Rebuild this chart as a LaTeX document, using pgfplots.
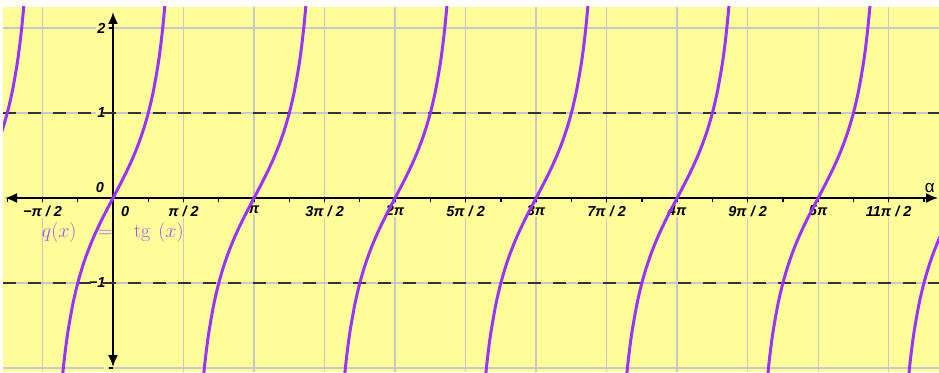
\RequirePackage{fix-cm}
\documentclass[border=0pt]{standalone}
\usepackage{pgfplots}
\pgfplotsset{compat=1.18}
\usepackage{pgfplotstable}
\usetikzlibrary{arrows.meta}
\usepackage{fontspec}
\setsansfont{Liberation Sans}
\definecolor{bgyellow}{RGB}{255,253,153}
\definecolor{curve}{RGB}{153,51,255}
\definecolor{lbl}{RGB}{160,85,250}
\definecolor{gridgray}{RGB}{200,200,200}

% one branch of tg around 0, repeated every pi
\pgfplotstableread{
t y
-1.20 -2.57215
-1.15 -2.23716
-1.10 -1.96476
-1.05 -1.74332
-1.00 -1.55741
-0.90 -1.26016
-0.80 -1.02964
-0.70 -0.84229
-0.60 -0.68414
-0.50 -0.54630
-0.40 -0.42279
-0.30 -0.30934
-0.20 -0.20271
-0.10 -0.10033
0.00 0.00000
0.10 0.10033
0.20 0.20271
0.30 0.30934
0.40 0.42279
0.50 0.54630
0.60 0.68414
0.70 0.84229
0.80 1.02964
0.90 1.26016
1.00 1.55741
1.05 1.74332
1.10 1.96476
1.15 2.23716
1.20 2.57215
}\branch

\begin{document}
\begin{tikzpicture}
\begin{axis}[name=ax, scale only axis, width=936pt, height=365pt,
  xmin=-2.451, xmax=18.40, ymin=-2.047, ymax=2.247,
  axis lines=middle, axis background/.style={fill=bgyellow},
  x axis line style={{Latex[length=12pt,width=10pt]}-{Latex[length=12pt,width=10pt]}, line width=1.8pt, shorten <=2pt, shorten >=1pt},
  y axis line style={{Latex[length=12pt,width=10pt]}-{Latex[length=12pt,width=10pt]}, line width=1.8pt, shorten <=5pt, shorten >=5pt},
  xtick={-1.570796,1.570796,3.141593,4.712389,6.283185,7.853982,9.424778,10.995574,12.566371,14.137167,15.707963,17.278760},
  xticklabels={−π / 2, π / 2, π, 3π / 2, 2π, 5π / 2, 3π, 7π / 2, 4π, 9π / 2, 5π, 11π / 2},
  minor xtick={-2.35619,-0.785398,0.785398,2.35619,3.92699,5.49779,7.06858,8.63938,10.21018,11.78097,13.35177,14.92257,16.49336,18.06416},
  ytick={-2,-1,1,2}, yticklabels={,−1,1,2},
  tick align=outside, major tick length=4pt, minor tick length=4pt,
  tick style={black, line width=1.3pt},
  grid=major, major grid style={gridgray, line width=1.3pt},
  ticklabel style={font=\fontsize{14.5}{14.5}\selectfont\sffamily\bfseries\itshape, fill=bgyellow, inner sep=1.5pt},
  xticklabel style={yshift=-2pt},
  yticklabel style={xshift=-2pt},
  clip=true]
\addplot[black!80, line width=1.7pt, dash pattern=on 13pt off 12pt] coordinates {(-2.451,1) (18.40,1)};
\addplot[black!80, line width=1.7pt, dash pattern=on 13pt off 12pt] coordinates {(-2.451,-1) (18.40,-1)};
\addplot[curve, line width=3pt, smooth] table[x expr=\thisrow{t}-3.141593, y=y] {\branch};
\addplot[curve, line width=3pt, smooth] table[x expr=\thisrow{t}, y=y] {\branch};
\addplot[curve, line width=3pt, smooth] table[x expr=\thisrow{t}+3.141593, y=y] {\branch};
\addplot[curve, line width=3pt, smooth] table[x expr=\thisrow{t}+6.283185, y=y] {\branch};
\addplot[curve, line width=3pt, smooth] table[x expr=\thisrow{t}+9.424778, y=y] {\branch};
\addplot[curve, line width=3pt, smooth] table[x expr=\thisrow{t}+12.566371, y=y] {\branch};
\addplot[curve, line width=3pt, smooth] table[x expr=\thisrow{t}+15.707963, y=y] {\branch};
\addplot[curve, line width=3pt, smooth] table[x expr=\thisrow{t}+18.849556, y=y] {\branch};
\node[anchor=south east, font=\fontsize{14.5}{14.5}\selectfont\sffamily\bfseries\itshape, inner sep=0pt] at ([xshift=-9pt,yshift=5pt]axis cs:0,0) {0};
\node[anchor=north west, font=\fontsize{14.5}{14.5}\selectfont\sffamily\bfseries\itshape, inner sep=0pt] at ([xshift=8pt,yshift=-8pt]axis cs:0,0) {0};
\node[anchor=south east, font=\fontsize{17}{17}\selectfont\sffamily, inner sep=0pt] at ([xshift=-4pt,yshift=5pt]axis cs:18.40,0) {α};
\node[anchor=base west, text=lbl, font=\fontsize{20}{20}\selectfont, inner sep=0pt] at (axis cs:-1.59,-0.46) {$q(x)\hspace{16pt}=\hspace{16pt}\mathrm{tg}\hspace{8pt}(x)$};
\end{axis}
\pgfresetboundingbox
\path ([xshift=-3pt]ax.south west) rectangle ([yshift=7pt]ax.north east);
\end{tikzpicture}
\end{document}
